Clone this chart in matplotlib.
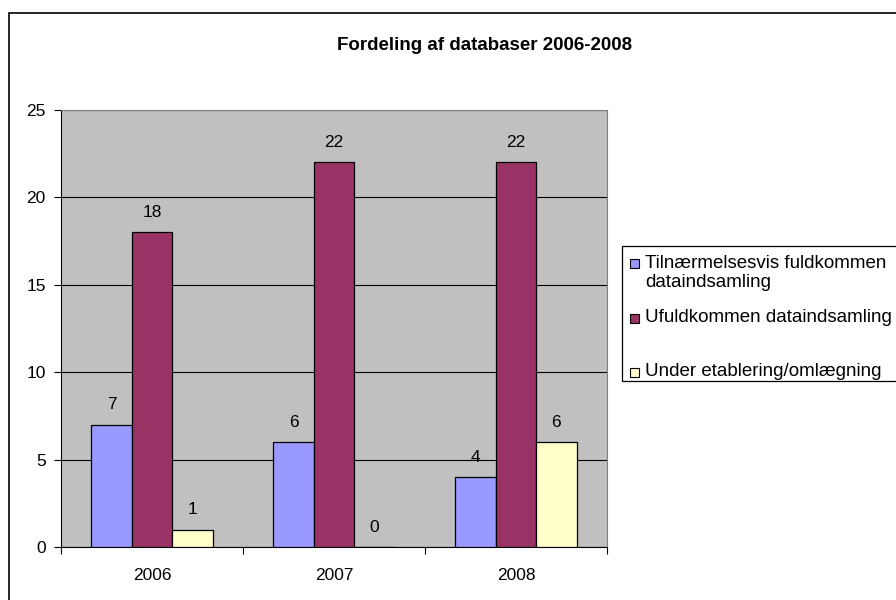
import matplotlib
matplotlib.use("Agg")
import matplotlib.pyplot as plt
import matplotlib.patches as patches
import numpy as np

plt.rcParams['font.family'] = ['Liberation Sans', 'DejaVu Sans']

# Data
years = ['2006', '2007', '2008']
series_names = ['Tilnærmelsesvis fuldkommen\ndataindsamling',
                'Ufuldkommen dataindsamling',
                'Under etablering/omlægning']
fuldkommen = [7, 6, 4]
ufuldkommen = [18, 22, 22]
etablering = [1, 0, 6]
y_ticks = [0, 5, 10, 15, 20, 25]

colors = ['#9999FF', '#993366', '#FFFFCC']
W, H = 896, 600

fig = plt.figure(figsize=(8.96, 6.0), dpi=100, facecolor='white')

# plot area in pixel coords
left, right, top, bottom = 61, 607, 110, 547
ax = fig.add_axes([left / W, 1 - bottom / H, (right - left) / W, (bottom - top) / H])
ax.set_facecolor('#C0C0C0')

x = np.arange(len(years))
bw = 0.222
all_series = [fuldkommen, ufuldkommen, etablering]
for i, (vals, col) in enumerate(zip(all_series, colors)):
    pos = x + (i - 1) * bw
    ax.bar(pos, vals, width=bw, color=col, edgecolor='black', linewidth=0.9, zorder=3)
    for p, v in zip(pos, vals):
        ax.annotate(str(v), (p, v), xytext=(0, 20), textcoords='offset pixels',
                    ha='center', va='center', fontsize=12.5, color='black', zorder=4)

ax.set_xlim(-0.5, 2.5)
ax.set_ylim(0, 25)
ax.set_yticks(y_ticks)
ax.yaxis.grid(True, color='black', linewidth=0.8, zorder=1)
ax.set_axisbelow(True)

# category ticks at boundaries, labels at centers
ax.set_xticks([-0.5, 0.5, 1.5, 2.5])
ax.set_xticklabels([])
ax.set_xticks(x, minor=True)
ax.set_xticklabels(years, minor=True, fontsize=12.5)
ax.tick_params(axis='x', which='minor', length=0, pad=15)
ax.tick_params(axis='x', which='major', length=5, width=0.8, direction='out')
ax.tick_params(axis='y', length=5, width=0.8, direction='out', labelsize=12.5, pad=6)

for s in ['left', 'bottom']:
    ax.spines[s].set_color('black')
    ax.spines[s].set_linewidth(0.8)
for s in ['top', 'right']:
    ax.spines[s].set_color('#808080')
    ax.spines[s].set_linewidth(0.8)

# title
fig.text(485 / W, 1 - 46 / H, 'Fordeling af databaser 2006-2008',
         ha='center', va='center', fontsize=13.5, fontweight='bold')

# outer chart border
fig.patches.append(patches.Rectangle((8.5 / W, -0.1), 1.2, 1 - 12.5 / H + 0.1,
                                     transform=fig.transFigure, fill=False,
                                     edgecolor='black', linewidth=1.2, clip_on=False))

# legend box
lx0, ly0, ly1 = 622, 246, 381
fig.patches.append(patches.Rectangle((lx0 / W, 1 - ly1 / H), 0.5, (ly1 - ly0) / H,
                                     transform=fig.transFigure, facecolor='white',
                                     edgecolor='black', linewidth=0.9))
marker_y = [263, 318, 372]
text_y = [273, 318, 372]
for name, col, my, ty in zip(series_names, colors, marker_y, text_y):
    fig.patches.append(patches.Rectangle((630 / W, 1 - (my + 4.5) / H), 9 / W, 9 / H,
                                         transform=fig.transFigure, facecolor=col,
                                         edgecolor='black', linewidth=0.8))
    fig.text(645 / W, 1 - ty / H, name, ha='left', va='center',
             fontsize=13.5, linespacing=1.2, transform=fig.transFigure)

fig.savefig('out.png', dpi=100, facecolor='white')
